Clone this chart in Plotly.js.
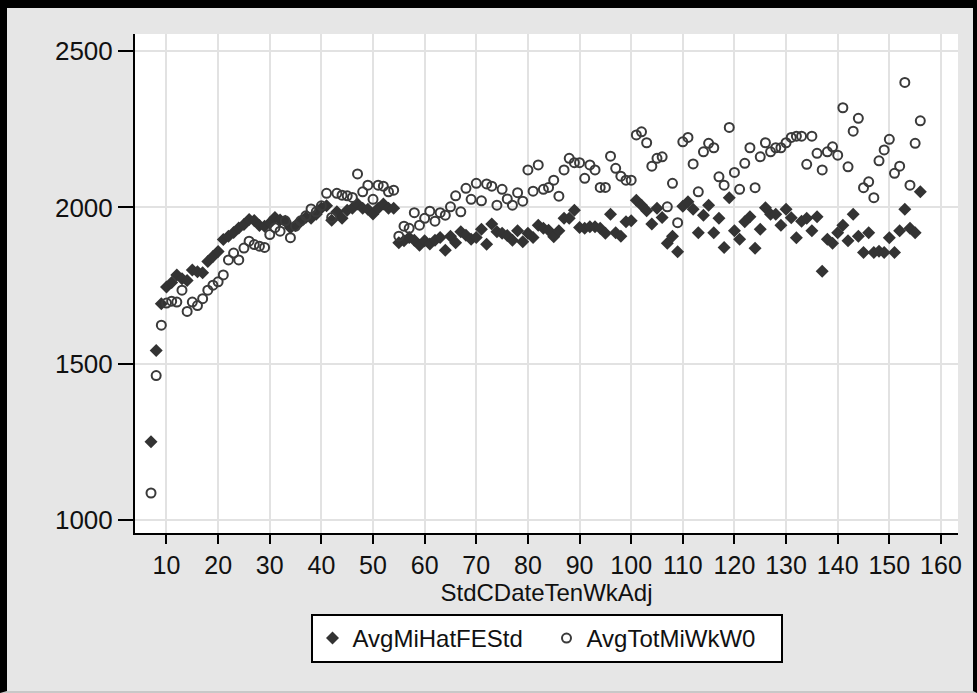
<!DOCTYPE html>
<html>
<head>
<meta charset="utf-8">
<script src="https://cdn.plot.ly/plotly-3.0.1.min.js"></script>
<style>
  html, body { margin: 0; padding: 0; background: #e6e6e6; }
  #wrap { position: relative; width: 977px; height: 693px; overflow: hidden; }
  #chart { position: absolute; left: 0; top: 0; width: 977px; height: 693px; }
  #frame { position: absolute; left: 0; top: 0; width: 977px; height: 693px; box-sizing: border-box;
           border-left: 7px solid #000; border-top: 8px solid #000; border-right: 4px solid #000;
           border-bottom: 2px solid #c8c8c8; pointer-events: none; }
</style>
</head>
<body>
<div id="wrap"><div id="chart"></div><div id="frame"></div></div>
<script>
const weeks = [7,8,9,10,11,12,13,14,15,16,17,18,19,20,21,22,23,24,25,26,27,28,29,30,31,32,33,34,35,36,37,38,39,40,41,42,43,44,45,46,47,48,49,50,51,52,53,54,55,56,57,58,59,60,61,62,63,64,65,66,67,68,69,70,71,72,73,74,75,76,77,78,79,80,81,82,83,84,85,86,87,88,89,90,91,92,93,94,95,96,97,98,99,100,101,102,103,104,105,106,107,108,109,110,111,112,113,114,115,116,117,118,119,120,121,122,123,124,125,126,127,128,129,130,131,132,133,134,135,136,137,138,139,140,141,142,143,144,145,146,147,148,149,150,151,152,153,154,155,156];

const avgMiHatFEStd = [1250,1542,1692,1745,1760,1784,1772,1766,1800,1794,1791,1827,1843,1859,1897,1908,1920,1934,1945,1961,1958,1942,1940,1950,1968,1960,1956,1935,1942,1955,1968,1965,1978,1998,2005,1959,1986,1965,1991,1997,2011,1997,1994,1979,1997,2011,1997,1997,1887,1893,1904,1895,1879,1893,1883,1895,1904,1863,1908,1887,1922,1911,1898,1904,1930,1882,1947,1922,1917,1910,1895,1925,1890,1917,1904,1943,1933,1927,1906,1925,1965,1965,1991,1936,1933,1938,1938,1933,1917,1978,1919,1908,1954,1957,2023,2007,1989,1947,1997,1968,1885,1908,1858,2004,2018,1994,1919,1975,2007,1919,1965,1872,2031,1925,1898,1954,1970,1869,1930,1999,1978,1978,1943,1994,1967,1903,1956,1965,1925,1970,1796,1898,1885,1919,1943,1893,1978,1908,1856,1919,1856,1860,1856,1903,1856,1925,1994,1933,1919,2050];

const avgTotMiWkW0 = [1086,1462,1623,1694,1700,1697,1735,1667,1697,1686,1708,1735,1751,1762,1784,1832,1854,1832,1870,1892,1881,1876,1872,1913,1935,1924,1957,1903,1940,1957,1973,1995,1986,2005,2045,1968,2045,2039,2037,2032,2107,2050,2071,2026,2071,2068,2050,2055,1908,1940,1933,1983,1943,1965,1988,1956,1983,1975,2002,2037,1986,2061,2026,2077,2021,2075,2068,2007,2058,2027,2007,2047,2020,2120,2052,2136,2058,2064,2087,2036,2120,2157,2143,2143,2093,2136,2120,2064,2064,2164,2125,2100,2087,2087,2232,2242,2207,2132,2157,2162,2002,2077,1951,2210,2224,2139,2050,2178,2205,2191,2098,2071,2256,2112,2058,2141,2191,2063,2162,2207,2178,2191,2191,2207,2224,2228,2228,2138,2228,2173,2120,2178,2194,2167,2319,2130,2244,2285,2063,2082,2031,2149,2184,2218,2109,2132,2400,2071,2205,2277];

const xTicks = [10,20,30,40,50,60,70,80,90,100,110,120,130,140,150,160];
const yTicks = [1000,1500,2000,2500];
const seriesNames = ["AvgMiHatFEStd", "AvgTotMiWkW0"];
const xTitle = "StdCDateTenWkAdj";

const font = "Liberation Sans, Arial, Helvetica, sans-serif";

const traces = [
  { x: weeks, y: avgMiHatFEStd, name: seriesNames[0], type: "scatter", mode: "markers",
    marker: { symbol: "diamond", size: 10, color: "#333333", line: { width: 0 } } },
  { x: weeks, y: avgTotMiWkW0, name: seriesNames[1], type: "scatter", mode: "markers",
    marker: { symbol: "circle-open", size: 9, color: "#3a3a3a", line: { width: 2, color: "#3a3a3a" } } }
];

const layout = {
  width: 977, height: 693,
  margin: { l: 135, r: 19, t: 34, b: 160, pad: 0 },
  paper_bgcolor: "#e6e6e6",
  plot_bgcolor: "#ffffff",
  font: { family: font, color: "#111111" },
  showlegend: true,
  xaxis: {
    range: [3.9, 163.3], tickmode: "array", tickvals: xTicks, ticktext: xTicks.map(String),
    showgrid: true, gridcolor: "#e2e2e2", gridwidth: 2, zeroline: false,
    showline: true, linecolor: "#000000", linewidth: 2, mirror: false,
    ticks: "outside", ticklen: 9, tickwidth: 2, tickcolor: "#000000",
    tickfont: { family: font, size: 25, color: "#111111" },
    title: { text: xTitle, font: { family: font, size: 24, color: "#111111" }, standoff: 5 },
    automargin: false
  },
  yaxis: {
    range: [958, 2555], tickmode: "array", tickvals: yTicks, ticktext: yTicks.map(String),
    showgrid: true, gridcolor: "#e2e2e2", gridwidth: 2, zeroline: false,
    showline: true, linecolor: "#000000", linewidth: 2, mirror: false,
    ticks: "outside", ticklen: 15, tickwidth: 2, tickcolor: "#000000",
    tickfont: { family: font, size: 26, color: "#111111" },
    ticklabelstandoff: 0,
    automargin: false
  },
  legend: {
    orientation: "h", x: 0.5, xanchor: "center", y: -0.1623, yanchor: "top",
    bgcolor: "#ffffff", bordercolor: "#000000", borderwidth: 2,
    entrywidthmode: "pixels", entrywidth: 189,
    font: { family: font, size: 24, color: "#111111" }, traceorder: "normal"
  }
};

Plotly.newPlot("chart", traces, layout, { displayModeBar: false, staticPlot: true });
</script>
</body>
</html>
